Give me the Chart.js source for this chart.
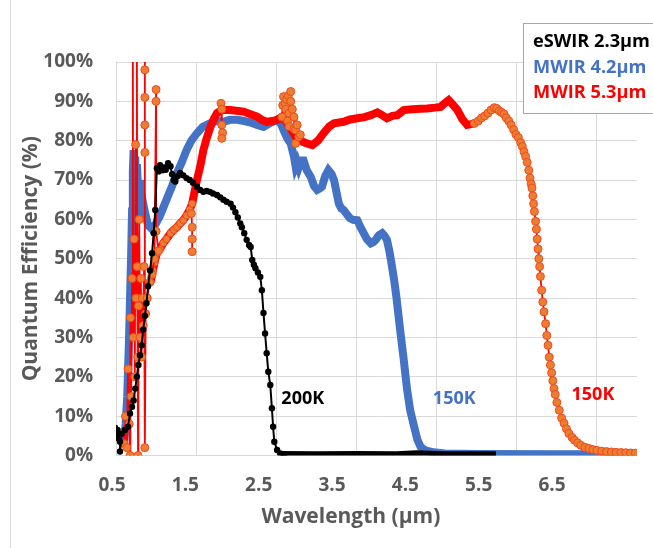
<!DOCTYPE html>
<html>
<head>
<meta charset="utf-8">
<script src="https://cdn.jsdelivr.net/npm/chart.js@4.4.1/dist/chart.umd.min.js"></script>
<style>
html, body { margin: 0; padding: 0; background: #fff; }
canvas { display: block; }
</style>
</head>
<body>
<canvas id="qe" width="653" height="548"></canvas>
<script>
// axis ticks
const xTicks = [0.5, 1.5, 2.5, 3.5, 4.5, 5.5, 6.5];
const legendNames = ['eSWIR 2.3µm', 'MWIR 4.2µm', 'MWIR 5.3µm'];
const tempLabels = ['200K', '150K', '150K'];
const tempX = [2.83, 4.72, 6.45];
const tempY = [14.3, 14.3, 15.3];

// eSWIR 2.3um, 200K  [wavelength um, QE %]
const eswir = [[0.49,7],[0.50,4.5],[0.52,6.5],[0.55,3.5],[0.55,1],[0.57,5.5],[0.61,6.5],[0.65,7.3],[0.675,10.7],[0.70,12.4],
  [0.72,14],[0.74,17],[0.76,20],[0.78,23],[0.80,25.5],[0.82,28],[0.84,32],[0.86,35.5],[0.88,38.7],[0.90,43],[0.925,47],
  [0.95,51.4],[0.97,56.5],[0.99,62.4],[1.01,73],[1.03,72.2],[1.05,73.8],[1.08,72.5],[1.10,73.2],[1.12,72.6],[1.15,74.3],
  [1.18,73.5],[1.20,71.5],[1.22,70],[1.24,69.6],[1.27,71],[1.30,71.8],[1.34,71.2],[1.38,70.5],[1.42,70],[1.46,69.3],
  [1.51,68.3],[1.55,67.5],[1.59,67],[1.63,67.2],[1.67,67],[1.71,66.6],[1.76,66.2],[1.80,65.6],[1.84,65],[1.88,64.5],
  [1.93,64],[1.96,63],[1.99,61.8],[2.02,60.5],[2.05,59],[2.07,58],[2.10,56.5],[2.13,54.8],[2.16,53.5],[2.18,53],
  [2.20,49.7],[2.22,48.5],[2.24,47.6],[2.27,46.5],[2.30,45.4],[2.32,42],[2.34,36.2],[2.36,31],[2.38,26],[2.40,21.3],
  [2.425,17.9],[2.445,12],[2.46,7.3],[2.475,3.5],[2.51,1.4],[2.55,0.5],[2.60,0.3]];
const eswirFlat = [[2.55,0.4],[3.0,0.3],[3.5,0.35],[4.0,0.3],[4.25,0.6],[4.6,0.3],[5.0,0.3],[5.24,0.3]];

// MWIR 4.2um, 150K
const mwir42 = [[0.60,3],[0.62,8],[0.64,15],[0.66,28],[0.675,40],[0.69,52],[0.70,62],[0.71,72],[0.72,77.6],[0.73,70],
  [0.74,76],[0.75,62],[0.76,74],[0.78,66],[0.80,70],[0.82,63],[0.84,64],[0.87,61],[0.90,58.5],[0.95,57.5],[1.00,59],
  [1.05,61],[1.10,63.5],[1.15,66],[1.20,68.5],[1.26,71.8],[1.32,74.5],[1.38,77.6],[1.44,80],[1.51,81.9],[1.58,83.5],
  [1.68,84.5],[1.76,85],[1.84,84.8],[1.92,85.3],[2.01,85.3],[2.10,85],[2.18,84.6],[2.26,84],[2.34,83.5],[2.42,84.5],
  [2.51,85.3],[2.56,84.2],[2.59,82.7],[2.64,80.5],[2.68,79.3],[2.72,76],[2.74,73.5],[2.76,74.5],[2.78,73.2],[2.81,75],
  [2.84,75],[2.88,72.5],[2.93,70.8],[2.97,68.5],[3.01,67.5],[3.04,67.8],[3.07,68.3],[3.11,71],[3.15,72.5],[3.19,71.5],
  [3.22,70],[3.25,67],[3.28,64],[3.31,62.8],[3.34,62.4],[3.38,61.3],[3.42,60.3],[3.46,59.9],[3.51,59.8],[3.55,58],
  [3.59,56.5],[3.63,55],[3.68,53.9],[3.71,54.2],[3.74,54.8],[3.78,56],[3.82,56.5],[3.85,55.8],[3.88,54.8],[3.91,52],
  [3.93,49.7],[3.97,44.6],[4.00,40],[4.05,31],[4.09,24.3],[4.13,17],[4.17,11.5],[4.22,7.3],[4.26,4],[4.30,2.2],
  [4.36,1.3],[4.46,0.8],[4.6,0.5],[5.0,0.35],[6.0,0.3],[7.0,0.3]];

// MWIR 5.3um, 150K - dense part
const mwir53 = [[0.93,44],[0.96,47],[0.98,49],[1.01,51.4],[1.05,52.5],[1.09,54],[1.13,55],[1.18,56.5],[1.22,57.3],
  [1.26,58],[1.30,59],[1.34,59.8],[1.38,61],[1.42,62.5],[1.45,64],[1.48,67],[1.51,70],[1.55,73.4],[1.59,77.6],[1.63,80.5],
  [1.68,83.6],[1.72,85.5],[1.76,87],[1.82,87.8],[1.88,87.8],[1.93,87.8],[2.00,87.6],[2.09,87.4],[2.17,86.8],[2.26,86.1],
  [2.32,85.3],[2.38,84.8],[2.45,85],[2.51,85.3],[2.57,86.1],[2.62,85],[2.68,83],[2.74,81],[2.80,80],[2.88,79.3],
  [2.95,78.9],[3.02,80],[3.09,81.9],[3.16,83.6],[3.22,84.4],[3.34,84.8],[3.42,85.4],[3.51,85.7],[3.6,86],[3.68,86.5],
  [3.76,87.2],[3.82,86.5],[3.88,85.7],[3.95,86.3],[4.01,86.5],[4.09,87.8],[4.2,88],[4.3,88.1],[4.38,88.2],[4.48,88.4],
  [4.55,88.6],[4.6,89.5],[4.65,90.3],[4.70,89.2],[4.76,87.8],[4.82,85.5],[4.88,84],[4.93,84.2],[4.97,84.4]];

// MWIR 5.3um - noisy points shown with markers (null = break)
const mwir53Spikes = [[0.60,3],[0.62,10],[0.635,2],[0.65,22],[0.665,8],[0.675,0],[0.68,35],[0.69,15],[0.70,45],[0.71,112],
  [0.715,30],[0.725,55],[0.735,20],[0.745,79],[0.75,40],[0.76,115],[0.765,48],[0.77,25],[0.775,0],[0.78,38],[0.79,60],
  [0.80,30],[0.81,45],[0.82,25],[0.83,40],[0.84,33],[0.85,48],[0.86,110],[0.86,98],[0.86,91],[0.86,84],[0.86,77],
  [0.86,2],[0.87,36],[0.89,40],[0.92,44],[0.95,46],[0.98,50],[1.0,93],[1.0,90],[1.0,57],[1.03,52],[1.1,null],
  [1.44,61.5],[1.45,58],[1.45,55],[1.45,51.8],[1.6,null],
  [1.81,89.5],[1.82,88],[1.82,84],[1.83,82],[1.82,80.6],[2.0,null],
  [2.57,86],[2.58,89],[2.59,91.2],[2.61,89.5],[2.62,88],[2.63,90.5],[2.65,91.5],[2.68,92.5],[2.68,90],[2.66,87],
  [2.64,85],[2.66,83.6],[2.70,88],[2.72,86],[2.72,83],[2.74,82.7],[2.74,79.3],[2.76,84],[2.78,81],[2.80,81.5]];

// MWIR 5.3um - cut-off tail with markers
const mwir53Tail = [[4.97,84.4],[5.02,85],[5.06,85.8],[5.10,86.3],[5.14,87],[5.18,87.8],[5.22,88.4],[5.25,88.2],[5.28,87.6],
  [5.31,87.2],[5.34,86.8],[5.37,85.8],[5.40,85],[5.43,84],[5.46,82.8],[5.49,81.6],[5.52,80.8],[5.55,79.5],[5.57,78.5],
  [5.59,77.2],[5.61,76],[5.63,74.5],[5.65,72.5],[5.665,70.5],[5.68,69],[5.69,68],[5.70,66],[5.71,64],[5.72,62],
  [5.735,59.5],[5.745,57.5],[5.755,55],[5.765,52.5],[5.775,50],[5.785,48],[5.795,45.5],[5.81,42],[5.825,39],[5.84,36.5],
  [5.86,33.5],[5.875,30.5],[5.89,28],[5.905,25],[5.92,23],[5.935,21],[5.95,19],[5.965,17],[5.98,15.5],[6.00,13.5],
  [6.03,11.5],[6.06,9.5],[6.09,8.2],[6.12,6.8],[6.15,5.6],[6.19,4.6],[6.22,3.9],[6.26,3.2],[6.30,2.6],[6.35,2.1],
  [6.40,1.8],[6.45,1.5],[6.50,1.3],[6.56,1.1],[6.62,1.0],[6.68,0.9],[6.74,0.8],[6.80,0.75],[6.86,0.7],[6.92,0.65],[6.98,0.6]];

const gray = '#595959';
const blue = '#4472C4';
const red = '#FF0000';
const orange = '#ED7D31';
const font = 'Open Sans';

function xy(arr) { return arr.map(p => ({ x: p[0], y: p[1] })); }

const extras = {
  id: 'extras',
  afterDraw(chart) {
    const ctx = chart.ctx;
    const x = chart.scales.x, y = chart.scales.y;
    const area = chart.chartArea;
    ctx.save();
    // frame line on the left
    ctx.strokeStyle = '#D9D9D9';
    ctx.lineWidth = 1;
    ctx.beginPath();
    ctx.moveTo(10.5, 0);
    ctx.lineTo(10.5, 548);
    ctx.stroke();

    // temperature labels
    ctx.font = 'bold 18px "' + font + '"';
    ctx.textAlign = 'center';
    ctx.textBaseline = 'middle';
    const tcol = ['#000000', blue, red];
    tempLabels.forEach((t, i) => {
      ctx.fillStyle = tcol[i];
      ctx.fillText(t, x.getPixelForValue(tempX[i]), y.getPixelForValue(tempY[i]));
    });

    // x axis title
    ctx.font = 'bold 21px "' + font + '"';
    ctx.fillStyle = gray;
    ctx.fillText('Wavelength (µm)', x.getPixelForValue(3.43), area.bottom + 62);

    // legend box
    ctx.fillStyle = '#fff';
    ctx.fillRect(523, 23, 140, 90);
    ctx.strokeStyle = '#A6A6A6';
    ctx.strokeRect(523.5, 23.5, 140, 90);
    // fit the widest entry to ~117px like the original
    ctx.font = 'bold 19px "' + font + '"';
    const size = Math.min(19, 19 * 117 / ctx.measureText(legendNames[0]).width);
    ctx.font = 'bold ' + size.toFixed(1) + 'px "' + font + '"';
    ctx.textAlign = 'left';
    const lcol = ['#000000', blue, red];
    const ly = [42, 68, 93];
    legendNames.forEach((n, i) => {
      ctx.fillStyle = lcol[i];
      ctx.fillText(n, 533, ly[i]);
    });
    ctx.restore();
  }
};

new Chart(document.getElementById('qe'), {
  type: 'line',
  plugins: [extras],
  data: {
    datasets: [
      {
        label: legendNames[0], data: xy(eswir), order: 0,
        borderColor: '#000', borderWidth: 2, pointRadius: 3.2,
        pointBackgroundColor: '#000', pointBorderWidth: 0
      },
      {
        label: legendNames[0] + ' flat', data: xy(eswirFlat), order: 0,
        borderColor: '#000', borderWidth: 6, pointRadius: 0
      },
      {
        label: legendNames[2] + ' spikes', data: xy(mwir53Spikes), order: 1,
        borderColor: red, borderWidth: 1.8, pointRadius: 4,
        pointBackgroundColor: orange, pointBorderColor: '#F04A20', pointBorderWidth: 1
      },
      {
        label: legendNames[2] + ' tail', data: xy(mwir53Tail), order: 1,
        borderColor: red, borderWidth: 1.8, pointRadius: 4,
        pointBackgroundColor: orange, pointBorderColor: '#F04A20', pointBorderWidth: 1
      },
      {
        label: legendNames[2], data: xy(mwir53), order: 2,
        borderColor: red, borderWidth: 8,
        pointRadius: c => (c.raw && c.raw.x < 1.46 ? 3.5 : 0),
        pointBackgroundColor: orange, pointBorderColor: '#F04A20', pointBorderWidth: 1
      },
      {
        label: legendNames[1], data: xy(mwir42), order: 3,
        borderColor: blue, borderWidth: 8, pointRadius: 0
      }
    ]
  },
  options: {
    responsive: false,
    animation: false,
    devicePixelRatio: 1,
    layout: { padding: { left: 0, right: 16, top: 62, bottom: 0 } },
    plugins: { legend: { display: false }, tooltip: { enabled: false } },
    elements: { line: { tension: 0 } },
    scales: {
      x: {
        type: 'linear', position: 'bottom', min: 0.5, max: 7,
        afterBuildTicks: axis => { axis.ticks = xTicks.map(v => ({ value: v })); },
        afterFit: s => { s.height = 0; },
        ticks: { display: false },
        grid: { color: '#D9D9D9', lineWidth: 1, drawTicks: false },
        border: { display: false }
      },
      xl: {
        type: 'linear', position: 'bottom', axis: 'x', weight: 1, min: 0.5545, max: 7.659,
        afterBuildTicks: axis => { axis.ticks = xTicks.map(v => ({ value: v })); },
        afterFit: s => { s.height = 92.5; },
        ticks: {
          autoSkip: false, maxRotation: 0, padding: 19, color: gray,
          font: { family: font, size: 19, weight: 'bold' },
          callback: v => v.toFixed(1)
        },
        grid: { display: false, drawTicks: false },
        border: { display: false }
      },
      y: {
        min: 0, max: 100,
        afterFit: s => { s.width = 116; },
        ticks: {
          stepSize: 10, padding: 23, color: gray,
          font: { family: font, size: 19, weight: 'bold' },
          callback: v => v + '%'
        },
        grid: { color: '#D9D9D9', lineWidth: 1, drawTicks: false },
        border: { display: false },
        title: {
          display: true, text: 'Quantum Efficiency (%)', color: gray,
          font: { family: font, size: 21, weight: 'bold' },
          padding: { top: 18, bottom: 0 }
        }
      }
    }
  }
});
</script>
</body>
</html>
